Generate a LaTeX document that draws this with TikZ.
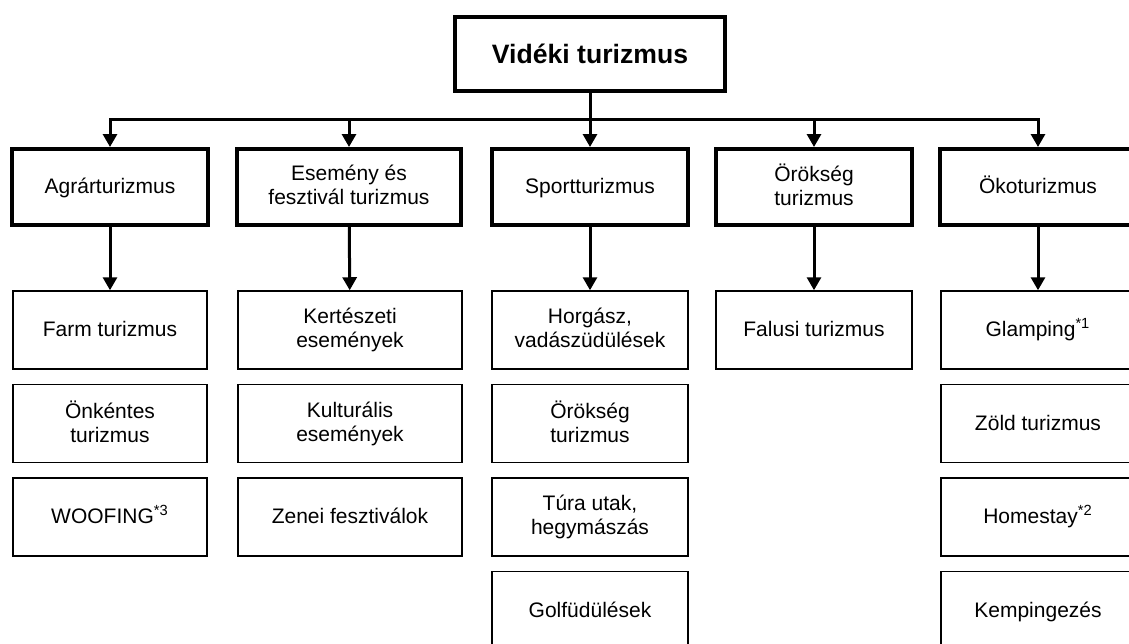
\documentclass[tikz,border=0pt]{standalone}
\usepackage{fontspec}
\setmainfont{Liberation Sans}
\usetikzlibrary{arrows.meta,positioning}

\tikzset{
  mainbox/.style={draw,rectangle,line width=2pt,inner sep=0pt,align=center,
    minimum width=98pt,minimum height=38pt,font=\fontsize{10.5}{12}\selectfont,
    execute at begin node={\vphantom{Ög}}},
  subbox/.style={draw,rectangle,line width=0.75pt,inner sep=0pt,align=center,
    minimum width=97pt,minimum height=39pt,font=\fontsize{10.5}{12}\selectfont,
    execute at begin node={\vphantom{Ög}}},
  arr/.style={line width=1.5pt,-{Triangle[length=6.5pt,width=7pt]}}
}

\begin{document}
\begin{tikzpicture}[x=0.5pt,y=-0.5pt]
\useasboundingbox (0,0) rectangle (1129,643);
% top
\node[draw,rectangle,line width=2pt,minimum width=135pt,minimum height=37pt,
  font=\fontsize{13.3}{15}\selectfont\bfseries] (top) at (590,54) {Vidéki turizmus};
\coordinate (bus) at (590,119);

% level 1
\node[mainbox] (agrar) at (110,187) {Agrárturizmus};
\node[mainbox,minimum width=112pt] (esemeny) at (349,187) {Esemény és\\fesztivál turizmus};
\node[mainbox] (sport) at (590,187) {Sportturizmus};
\node[mainbox] (orokseg) at (814,187) {Örökség\\turizmus};
\node[mainbox] (oko) at (1038,187) {Ökoturizmus};

% agrar
\node[subbox] (farm) at (110,330) {Farm turizmus};
\node[subbox,below=7pt of farm] (onkentes) {Önkéntes\\turizmus};
\node[subbox,below=7pt of onkentes] (woofing) {WOOFING\textsuperscript{*3}};

% esemeny
\node[subbox,minimum width=112pt] (kerteszeti) at (350,330) {Kertészeti\\események};
\node[subbox,minimum width=112pt,below=7pt of kerteszeti] (kulturalis) {Kulturális\\események};
\node[subbox,minimum width=112pt,below=7pt of kulturalis] (zenei) {Zenei fesztiválok};

% sport
\node[subbox,minimum width=98pt] (horgasz) at (590,330) {Horgász,\\vadászüdülések};
\node[subbox,minimum width=98pt,below=7pt of horgasz] (orokseg2) {Örökség\\turizmus};
\node[subbox,minimum width=98pt,below=7pt of orokseg2] (tura) {Túra utak,\\hegymászás};
\node[subbox,minimum width=98pt,below=7pt of tura] (golf) {Golfüdülések};

% orokseg
\node[subbox,minimum width=98pt] (falusi) at (814,330) {Falusi turizmus};

% oko
\node[subbox] (glamping) at (1038,330) {Glamping\textsuperscript{*1}};
\node[subbox,below=7pt of glamping] (zold) {Zöld turizmus};
\node[subbox,below=7pt of zold] (homestay) {Homestay\textsuperscript{*2}};
\node[subbox,below=7pt of homestay] (kemping) {Kempingezés};

% connectors
\draw[arr] (top) -- (bus) -| (agrar);
\draw[arr] (bus) -| (oko);
\draw[arr] (esemeny |- bus) -- (esemeny);
\draw[arr] (bus) -- (sport);
\draw[arr] (orokseg |- bus) -- (orokseg);

\draw[arr] (agrar) -- (farm);
\draw[arr] (esemeny) -- (kerteszeti);
\draw[arr] (sport) -- (horgasz);
\draw[arr] (orokseg) -- (falusi);
\draw[arr] (oko) -- (glamping);
\end{tikzpicture}
\end{document}
